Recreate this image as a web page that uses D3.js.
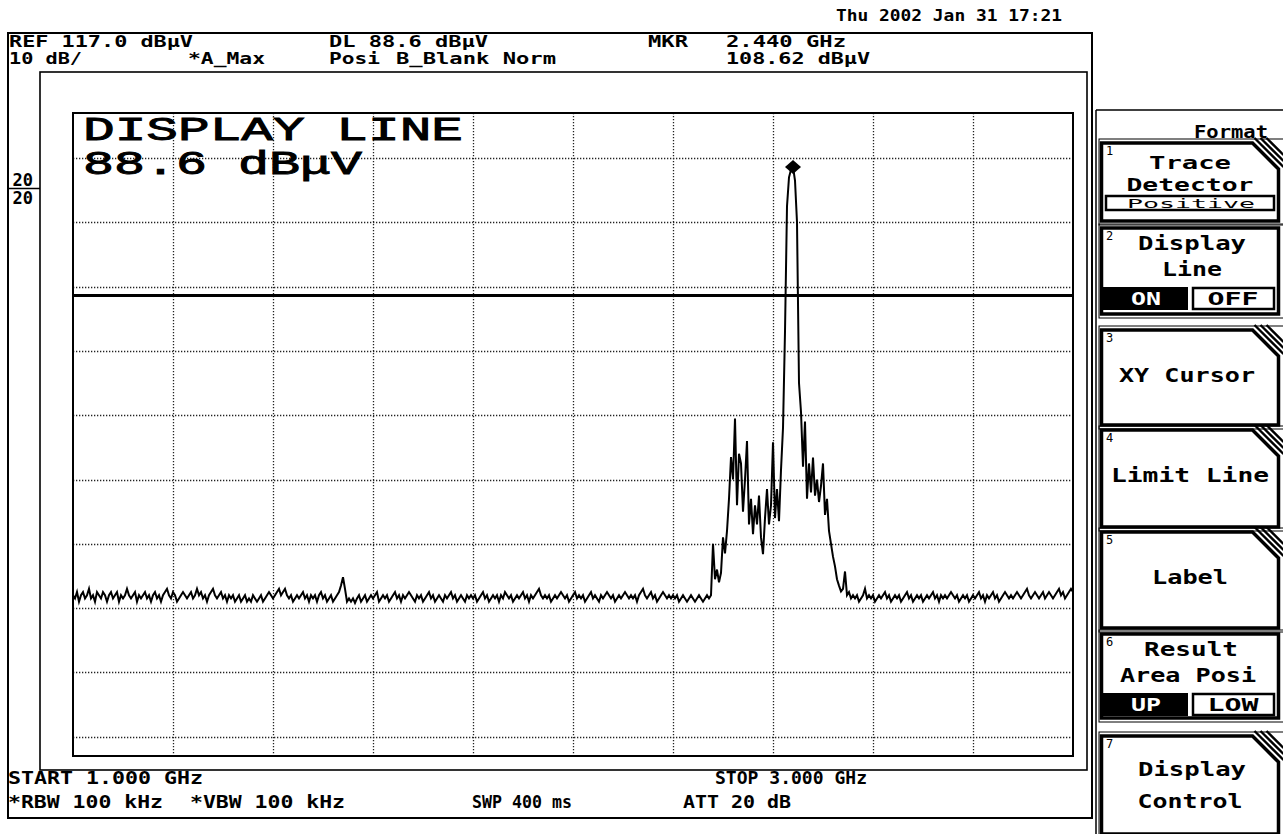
<!DOCTYPE html>
<html><head><meta charset="utf-8">
<script src="https://cdn.jsdelivr.net/npm/d3@7"></script>
<style>
html,body{margin:0;padding:0;background:#fff;}
svg{display:block;}
</style></head><body>
<svg id="c" width="1283" height="834"></svg>
<script>
// ---------------- data ----------------
const startGHz = 1.0, stopGHz = 3.0;
const refLevel = 117.0, dbPerDiv = 10, divisions = 10;
const displayLineLevel = 88.6;
const markerFreq = 2.440, markerLevel = 108.62;

// trace levels (dBµV), one every 4 MHz from 1.000 GHz
const noiseLow = [
 42,41.5,42.5,41,42,42.5,41.5,42,43,41.5,42,41,42.5,42,41.5,42.5,42,41,42,42.5,
 41.5,42,42.5,41,42,41.5,42,43,42,41.5,42,42.5,41,42,41.5,42,42.5,41.5,42,41,
 42,42.5,41.5,42,41,42,42.5,43,42,41.5,42.5,42,41,41.5,42,42.5,42,41.5,42,42.5,
 41.5,42,43,42,42.5,41.5,42,41,42,42.5,43,42,41.5,42,42.5,41.5,42,41,42,41.5,
 42,41,41.5,42,41,41.5,42,41,41.5,41,42,41.5,41,41.5,42,41,41.5,42,42.5,42,
 41.5,42,42.5,43,42,42.5,43,42,41.5,42,41,41.5,42,41.5,42,42.5,41.5,42,41,42,
 41.5,42,41,42,42.5,41.5,42,41,41.5,42,41,41.5,42,42.5,43.5,44.8,43,41,41.5,41,
 41.5,40.8,41.5,42,41,41.5,42,41,41.5,42,41.5,42,42.5,41,41.5,42,41.5,42,41,41.5,
 42,42.5,41.5,42,41,42,41.5,42,42.5,42,41.5,41,42,41.5,42,41,41.5,42,42.5,41.5,
 42,41,41.5,42,41.5,41,42,41.5,42,42.5,41.5,42,41,41.5,42,41.5,41,42,41.5,42,
 41.5,42,41,41.5,42,42.5,41.5,42,41,41.5,42,41.5,42,41,42,41.5,42.5,42,41.5,42,
 41,41.5,42,41.5,42,42.5,41.5,42,41,42,41.5,42,42.5,43,42,41.5,42,41.5,42,41,
 41.5,42,41.5,42,42.5,42,41.5,42,41,41.5,42,42.5,41.5,42,41.5,42,41,41.5,42,42.5,
 41.5,42,41.5,41,42,41.5,42,42.5,42,41.5,42,41,41.5,42,41.5,42,42.5,42,41.5,42,
 41.5,42,41,42,42.5,43,42,41.5,42,42.5,41.5,42,41,41.5,42,42.5,42,41.5,42,41.5,
 42,41.5,42,41,41.5,42,41.5,41,41.5,42,41.5,41,41.5,42,41.5,41,41.5,42,41.5
];
const signalBand = [
 42,50,44.5,46,44,45.5,51,48.5,52,57,
 63.5,60,69.5,56,64,62.5,55,60,66,53,
 57,51.5,56,53,57.5,51,48.4,54,58.5,53,
 56,65.8,54,58.5,53.5,61.5,68,83,102.5,107,
 108.2,108.62,106.5,100,75,70.5,62,69,57,62.5,
 58,63.4,57.5,60,56.5,59,62.5,54.5,57,52,
 50,48,46.5,44.5,43.5,42.6,43,45.7,42,42.5,
 41.5
];
const noiseHigh = [
 42,41.5,42,41,41.5,42,43,41.5,42,41.5,42,41,41.5,42,41.5,42,42.5,41.5,42,41,
 41.5,42,41.5,42,41,41.5,42,42.5,41.5,42,41,41.5,42,41.5,42,41,41.5,42,41.5,42,
 42.5,41.5,42,41,42,41.5,42,41.5,42,42.5,42,41.5,42,41,41.5,42,41.5,42,41,41.5,
 42,41.5,42,42.5,41.5,42,41,42,41.5,42,42.5,41.5,42,41,41.5,42,42.5,42,41.5,42,
 41.5,42,42.5,42,41.5,42,42.5,43,42,41.5,42,42.5,42,41.5,42,42.5,41.5,42,42.5,42,
 41.5,42,42.5,43,42,42.5,41.5,42,42.5,43,42.5
];
const traceLevels = noiseLow.concat(signalBand, noiseHigh);

// annotation texts
const dateText = "Thu 2002 Jan 31 17:21";
const headerRow1 = ["REF 117.0 dBμV", "DL 88.6 dBμV", "MKR", "2.440 GHz"];
const headerRow2 = ["10 dB/", "*A_Max", "Posi", "B_Blank Norm", "108.62 dBμV"];
const footerRow1 = ["START 1.000 GHz", "STOP 3.000 GHz"];
const footerRow2 = ["*RBW 100 kHz", "*VBW 100 kHz", "SWP 400 ms", "ATT 20 dB"];
const overlayLines = ["DISPLAY LINE", "88.6 dBμV"];
const sideLabels = ["20", "20"];
const menuTitle = "Format";
const softkeyNumbers = ["1","2","3","4","5","6","7"];
const softkeyLabels = [["Trace","Detector"],["Display","Line"],["XY Cursor"],["Limit Line"],["Label"],["Result","Area Posi"],["Display","Control"]];
const softkeyToggles = [["Positive"],["ON","OFF"],null,null,null,["UP","LOW"],null];
const softkeySubmenu = [true,false,true,true,true,false,true];

// ---------------- drawing ----------------
const svg = d3.select("#c");
const MONO = "'DejaVu Sans Mono', monospace";
const G = {x0:73, x1:1073, y0:113, y1:756};
const x = d3.scaleLinear().domain([startGHz, stopGHz]).range([G.x0, G.x1]);
const y = d3.scaleLinear().domain([refLevel - divisions*dbPerDiv, refLevel]).range([G.y1, G.y0]);

function txt(s, px, py, len, opts={}) {
  const t = svg.append("text").attr("x", px).attr("y", py).text(s)
    .attr("font-family", opts.family || MONO)
    .attr("font-size", opts.size || 16)
    .attr("font-weight", opts.weight || "bold")
    .attr("fill", opts.fill || "#000")
    .attr("text-anchor", opts.anchor || "start");
  if (len) t.attr("textLength", len).attr("lengthAdjust", opts.adjust || "spacingAndGlyphs");
  return t;
}

// outer frame & plot box
svg.append("rect").attr("x",8).attr("y",33).attr("width",1084).attr("height",785)
  .attr("fill","none").attr("stroke","#000").attr("stroke-width",2);
svg.append("rect").attr("x",40).attr("y",72).attr("width",1047).attr("height",698)
  .attr("fill","none").attr("stroke","#000").attr("stroke-width",1.6);

// header / footer texts
txt(dateText, 836, 21, 226);
const h1x = [9, 329, 648, 726], h1len = [184, 159, 40, 120];
headerRow1.forEach((s,i)=>txt(s, h1x[i], 47, h1len[i], {size:15.5}));
const h2x = [9, 188, 329, 396, 726], h2len = [73, 77, 51, 160, 144];
headerRow2.forEach((s,i)=>txt(s, h2x[i], 64, h2len[i], {size:15.5}));
const f1x = [8, 715], f1len = [195, 152];
footerRow1.forEach((s,i)=>txt(s, f1x[i], 784, f1len[i], {size:17}));
const f2x = [8, 190, 472, 683], f2len = [155, 155, 100, 108];
footerRow2.forEach((s,i)=>txt(s, f2x[i], 808, f2len[i], {size:17}));

// left scale labels
txt(sideLabels[0], 33, 186, null, {anchor:"end", size:17});
txt(sideLabels[1], 33, 204, null, {anchor:"end", size:17});
svg.append("line").attr("x1",8).attr("x2",40).attr("y1",188.5).attr("y2",188.5)
  .attr("stroke","#000").attr("stroke-width",1.5);

// graticule
const gx = x.ticks(divisions).filter(v=>v>startGHz+1e-9 && v<stopGHz-1e-9);
const gy = y.ticks(divisions).filter(v=>v>refLevel-divisions*dbPerDiv+1e-9 && v<refLevel-1e-9);
svg.append("g").selectAll("line").data(gx).join("line")
  .attr("x1",d=>Math.round(x(d))+0.5).attr("x2",d=>Math.round(x(d))+0.5)
  .attr("y1",G.y0).attr("y2",G.y1)
  .attr("stroke","#222").attr("stroke-width",1.3).attr("stroke-dasharray","1.3,1.7");
svg.append("g").selectAll("line").data(gy).join("line")
  .attr("y1",d=>Math.round(y(d))+0.5).attr("y2",d=>Math.round(y(d))+0.5)
  .attr("x1",G.x0).attr("x2",G.x1)
  .attr("stroke","#222").attr("stroke-width",1.3).attr("stroke-dasharray","1.3,1.7");
svg.append("rect").attr("x",G.x0).attr("y",G.y0).attr("width",G.x1-G.x0).attr("height",G.y1-G.y0)
  .attr("fill","none").attr("stroke","#000").attr("stroke-width",2);

// overlay text
const ov = {family:"'Liberation Mono', monospace", size:33, weight:"normal"};
txt(overlayLines[0], 83, 140, 380, ov).attr("stroke","#000").attr("stroke-width",0.9);
txt(overlayLines[1], 83, 174, 279, ov).attr("stroke","#000").attr("stroke-width",0.9);

// display line
svg.append("line").attr("x1",G.x0).attr("x2",G.x1)
  .attr("y1",y(displayLineLevel)).attr("y2",y(displayLineLevel))
  .attr("stroke","#000").attr("stroke-width",3);

// trace
const step = (stopGHz-startGHz)/(traceLevels.length-1);
const line = d3.line().x((d,i)=>x(startGHz + i*step)).y(d=>y(d));
svg.append("path").datum(traceLevels).attr("d", line)
  .attr("fill","none").attr("stroke","#000").attr("stroke-width",2).attr("stroke-linejoin","miter");

// marker diamond
const mx = x(markerFreq), my = y(markerLevel);
svg.append("path").attr("d", `M${mx},${my-7}L${mx+8},${my}L${mx},${my+7}L${mx-8},${my}Z`).attr("fill","#000");

// ---------------- softkey panel ----------------
const PL = 1096, KL = 1101.5, KR = 1278.5;
svg.append("line").attr("x1",PL).attr("x2",PL).attr("y1",110).attr("y2",834).attr("stroke","#000").attr("stroke-width",1.5);
svg.append("line").attr("x1",PL).attr("x2",1283).attr("y1",110).attr("y2",110).attr("stroke","#000").attr("stroke-width",1.5);
txt(menuTitle, 1231, 138, 74, {anchor:"middle", size:18});

const keyTops = [143, 228, 330, 430, 532, 634, 736];
const keyBottoms = [221, 314, 425, 527, 628, 718, 834];
const labelLen = {"Trace":82,"Detector":127,"Display":108,"Line":60,"XY Cursor":136,"Limit Line":158,
  "Label":76,"Result":94,"Area Posi":136,"Control":105};
const labelCx = {"Trace":1190,"Detector":1190,"Display":1192,"Line":1192,"XY Cursor":1187,"Limit Line":1190,
  "Label":1190,"Result":1191,"Area Posi":1188,"Control":1190};
softkeyNumbers.forEach((num, k) => {
  const t = keyTops[k], b = keyBottoms[k];
  svg.append("rect").attr("x",PL+3).attr("y",t-4).attr("width",1283-PL).attr("height",b-t+8)
    .attr("fill","none").attr("stroke","#000").attr("stroke-width",1);
  let d;
  if (softkeySubmenu[k]) {
    d = `M${KL},${t}H${KR-26}L${KR},${t+26}V${b}H${KL}Z`;
    [7,13,19].forEach(o=>{
      svg.append("line").attr("x1",KR-26+o-5).attr("y1",t-5).attr("x2",KR+5).attr("y2",t+26-o+5)
        .attr("stroke","#000").attr("stroke-width",2.4);
    });
  } else {
    d = `M${KL},${t}H${KR}V${b}H${KL}Z`;
  }
  svg.append("path").attr("d", d).attr("fill","#fff").attr("stroke","#000").attr("stroke-width",3.5);
  txt(num, 1106, t+12, null, {size:12, weight:"normal"});

  const labels = softkeyLabels[k];
  const tog = softkeyToggles[k];
  let bl;
  if (k === 0) bl = [t+26, t+48];
  else if (tog) bl = [t+22, t+48];
  else if (labels.length === 1) bl = [t+52];
  else bl = [t+40, t+72];
  labels.forEach((s,j)=>{
    txt(s, labelCx[s], bl[j], labelLen[s], {anchor:"middle", size: k===0 ? 17.5 : 19});
  });
  if (tog && tog.length === 1) {
    svg.append("rect").attr("x",1106).attr("y",t+53).attr("width",168).attr("height",14)
      .attr("fill","#fff").attr("stroke","#000").attr("stroke-width",2.5);
    txt(tog[0], 1191, t+64.5, 128, {anchor:"middle", size:13, weight:"normal"});
  } else if (tog) {
    svg.append("rect").attr("x",1103).attr("y",t+59).attr("width",85).attr("height",23).attr("fill","#000");
    svg.append("rect").attr("x",1193).attr("y",t+60).attr("width",81).attr("height",21)
      .attr("fill","#fff").attr("stroke","#000").attr("stroke-width",2.5);
    txt(tog[0], 1146, t+77, tog[0].length*15, {anchor:"middle", fill:"#fff", size:18});
    txt(tog[1], 1233, t+77, tog[1].length*17, {anchor:"middle", size:18});
  }
});
</script>
</body></html>
